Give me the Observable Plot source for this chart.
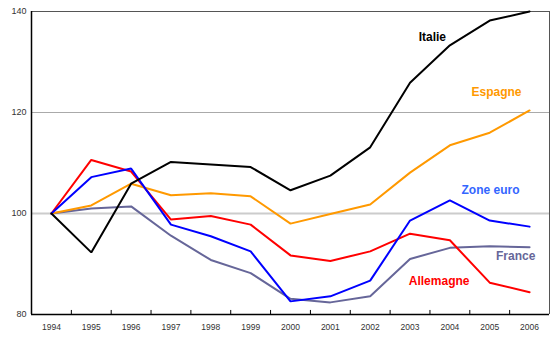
<!DOCTYPE html>
<html>
<head>
<meta charset="utf-8">
<script src="https://cdn.jsdelivr.net/npm/d3@7"></script>
<script src="https://cdn.jsdelivr.net/npm/@observablehq/plot@0.6"></script>
<style>
  html, body { margin: 0; padding: 0; background: #fff; }
  #chart svg { display: block; }
</style>
</head>
<body>
<div id="chart"></div>
<script>
const years = [1994, 1995, 1996, 1997, 1998, 1999, 2000, 2001, 2002, 2003, 2004, 2005, 2006];
const italie    = [100, 92.3, 105.9, 110.2, 109.7, 109.2, 104.6, 107.5, 113.1, 125.9, 133.3, 138.2, 140.0];
const espagne   = [100, 101.6, 105.9, 103.6, 104.0, 103.4, 98.0, 99.9, 101.8, 108.1, 113.5, 116.0, 120.4];
const zoneEuro  = [100, 107.2, 108.9, 97.8, 95.5, 92.5, 82.6, 83.6, 86.7, 98.6, 102.6, 98.6, 97.4];
const allemagne = [100, 110.6, 108.3, 98.8, 99.5, 97.8, 91.7, 90.6, 92.5, 96.0, 94.7, 86.3, 84.4];
const france    = [100, 101.0, 101.4, 95.6, 90.8, 88.2, 83.1, 82.4, 83.6, 91.0, 93.2, 93.5, 93.3];
const yTicks = [80, 100, 120, 140];

const seriesNames  = ["France", "Allemagne", "Espagne", "Zone euro", "Italie"];
const seriesValues = [france, allemagne, espagne, zoneEuro, italie];
const lineColors   = ["#666699", "#ff0000", "#ff9900", "#0000ff", "#000000"];
const labelColors  = ["#666699", "#ff0000", "#ff9900", "#3366ff", "#000000"];
// label anchor points in data units (year, index value)
const labelYear  = [2005.65, 2003.73, 2005.17, 2005.02, 2003.56];
const labelValue = [91.5, 86.7, 124.0, 104.6, 134.9];

const rows = [];
seriesNames.forEach((s, i) => years.forEach((y, j) => rows.push({serie: s, year: y, value: seriesValues[i][j]})));
const labels = seriesNames.map((s, i) => ({serie: s, year: labelYear[i], value: labelValue[i], color: labelColors[i]}));

const xDomain = [years[0] - 0.5, years[years.length - 1] + 0.5];
const boundaries = years.slice(0, -1).map(y => y + 0.5);

const chart = Plot.plot({
  width: 559,
  height: 341,
  marginLeft: 31,
  marginRight: 10,
  marginTop: 11,
  marginBottom: 27,
  style: {fontFamily: "'Liberation Sans', Arial, sans-serif", background: "#fff"},
  x: {domain: xDomain, type: "linear"},
  y: {domain: [yTicks[0], yTicks[yTicks.length - 1]]},
  color: {domain: seriesNames, range: lineColors},
  marks: [
    Plot.ruleY([yTicks[1]], {stroke: "#cccccc", strokeWidth: 2}),
    Plot.ruleY([yTicks[2]], {stroke: "#aaaaaa", strokeWidth: 1}),
    Plot.ruleY([yTicks[3]], {stroke: "#555555", strokeWidth: 1}),
    Plot.ruleX([xDomain[1]], {stroke: "#555555", strokeWidth: 1}),
    Plot.ruleX(boundaries, {y1: yTicks[0], y2: yTicks[0] + 0.8, stroke: "#000", strokeWidth: 1}),
    Plot.axisX(years, {tickSize: 0, tickPadding: 9, tickFormat: d => String(d), fontSize: 8.5, fill: "#333", label: null}),
    Plot.axisY(yTicks, {tickSize: 0, tickPadding: 5, fontSize: 9, fill: "#333", label: null}),
    Plot.line(rows, {x: "year", y: "value", z: "serie", stroke: "serie", strokeWidth: 2, strokeLinejoin: "miter"}),
    Plot.ruleX([xDomain[0]], {stroke: "#000", strokeWidth: 1.5}),
    Plot.ruleY([yTicks[0]], {stroke: "#000", strokeWidth: 1.5}),
    Plot.text(labels, {x: "year", y: "value", text: "serie", fill: "color", fontSize: 12, fontWeight: "bold"})
  ]
});
document.getElementById("chart").appendChild(chart);
</script>
</body>
</html>
